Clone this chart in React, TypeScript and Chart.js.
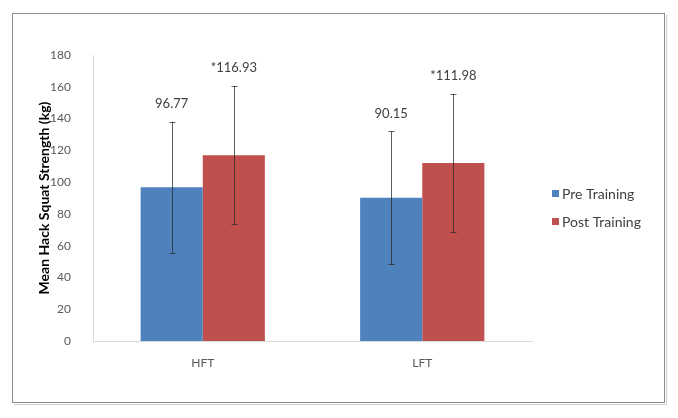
import React, { useEffect, useRef } from "react";
import { Chart, registerables } from "chart.js";

Chart.register(...registerables);

const categories = ["HFT", "LFT"];
const seriesNames = ["Pre Training", "Post Training"];
const preValues = [96.77, 90.15];
const postValues = [116.93, 111.98];
const preSD = [41.2, 41.8];
const postSD = [43.6, 43.5];
const preLabels = ["96.77", "90.15"];
const postLabels = ["*116.93", "*111.98"];
const yTicks = [0, 20, 40, 60, 80, 100, 120, 140, 160, 180];

const FONT = "Lato, 'Open Sans', sans-serif";

const sdByDataset = [preSD, postSD];
const labelsByDataset = [preLabels, postLabels];

const errorBarPlugin = {
  id: "errorBars",
  afterDatasetsDraw(chart: any) {
    const ctx = chart.ctx;
    const y = chart.scales.y;
    chart.data.datasets.forEach((ds: any, di: number) => {
      const meta = chart.getDatasetMeta(di);
      meta.data.forEach((bar: any, i: number) => {
        const v = ds.data[i];
        const sd = sdByDataset[di][i];
        const yTop = y.getPixelForValue(v + sd);
        const yBot = y.getPixelForValue(v - sd);
        const x = Math.round(bar.x) + 0.5;
        ctx.save();
        ctx.strokeStyle = "rgba(40,40,40,0.75)";
        ctx.lineWidth = 1;
        ctx.beginPath();
        ctx.moveTo(x, yTop);
        ctx.lineTo(x, yBot);
        ctx.moveTo(x - 3, Math.round(yTop) + 0.5);
        ctx.lineTo(x + 3, Math.round(yTop) + 0.5);
        ctx.moveTo(x - 3, Math.round(yBot) + 0.5);
        ctx.lineTo(x + 3, Math.round(yBot) + 0.5);
        ctx.stroke();
        ctx.fillStyle = "#404040";
        ctx.font = `13px ${FONT}`;
        ctx.textAlign = "center";
        ctx.textBaseline = "middle";
        ctx.fillText(labelsByDataset[di][i], bar.x, yTop - 18);
        ctx.restore();
      });
    });
  },
};

const frameLegendPlugin = {
  id: "frameLegend",
  beforeDraw(chart: any) {
    const ctx = chart.ctx;
    ctx.save();
    ctx.fillStyle = "#ffffff";
    ctx.fillRect(0, 0, chart.width, chart.height);
    ctx.strokeStyle = "#8c8c8c";
    ctx.lineWidth = 1;
    ctx.strokeRect(12.5, 13.5, 652, 389);
    ctx.strokeStyle = "#d0d0d0";
    ctx.beginPath();
    ctx.moveTo(14, 404.5);
    ctx.lineTo(666.5, 404.5);
    ctx.lineTo(666.5, 15);
    ctx.stroke();
    ctx.restore();
  },
  afterDraw(chart: any) {
    const ctx = chart.ctx;
    ctx.save();
    ctx.font = `14px ${FONT}`;
    ctx.textBaseline = "middle";
    ctx.textAlign = "left";
    chart.data.datasets.forEach((ds: any, di: number) => {
      const cy = 194 + di * 28;
      ctx.fillStyle = ds.backgroundColor;
      ctx.fillRect(552, cy - 4, 7, 7);
      ctx.fillStyle = "#404040";
      ctx.fillText(ds.label, 562, cy);
    });
    ctx.restore();
  },
};

export default function App() {
  const ref = useRef<HTMLCanvasElement | null>(null);
  useEffect(() => {
    document.body.style.margin = "0";
    const canvas = ref.current!;
    const chart = new Chart(canvas, {
      type: "bar",
      data: {
        labels: categories,
        datasets: [
          {
            label: seriesNames[0],
            data: preValues,
            backgroundColor: "#4F81BD",
            borderWidth: 0,
            categoryPercentage: 0.566,
            barPercentage: 1,
          },
          {
            label: seriesNames[1],
            data: postValues,
            backgroundColor: "#C0504D",
            borderWidth: 0,
            categoryPercentage: 0.566,
            barPercentage: 1,
          },
        ],
      },
      options: {
        animation: false,
        responsive: false,
        maintainAspectRatio: false,
        layout: { padding: { left: 0, top: 55, right: 146, bottom: 0 } },
        plugins: {
          legend: { display: false },
          tooltip: { enabled: false },
        },
        scales: {
          x: {
            grid: { display: false, drawTicks: false },
            border: { display: true, color: "#d9d9d9", width: 1 },
            ticks: { color: "#595959", font: { family: FONT, size: 12 }, padding: 15 },
            afterFit: (s: any) => {
              s.height = 77;
            },
          },
          y: {
            min: 0,
            max: 180,
            afterBuildTicks: (s: any) => {
              s.ticks = yTicks.map((v) => ({ value: v }));
            },
            grid: { display: false, drawTicks: false },
            border: { display: true, color: "#d9d9d9", width: 1 },
            ticks: { color: "#595959", font: { family: FONT, size: 12 }, padding: 22 },
            title: {
              display: true,
              text: "Mean Hack Squat Strength (kg)",
              color: "#000000",
              font: { family: FONT, size: 14, weight: "bold" },
              padding: { top: 36, bottom: 0 },
            },
            afterFit: (s: any) => {
              s.width = 93;
            },
          },
        },
      },
      plugins: [frameLegendPlugin, errorBarPlugin],
    });
    return () => chart.destroy();
  }, []);
  return (
    <div style={{ width: 678, height: 418 }}>
      <canvas ref={ref} width={678} height={418} style={{ display: "block" }} />
    </div>
  );
}
